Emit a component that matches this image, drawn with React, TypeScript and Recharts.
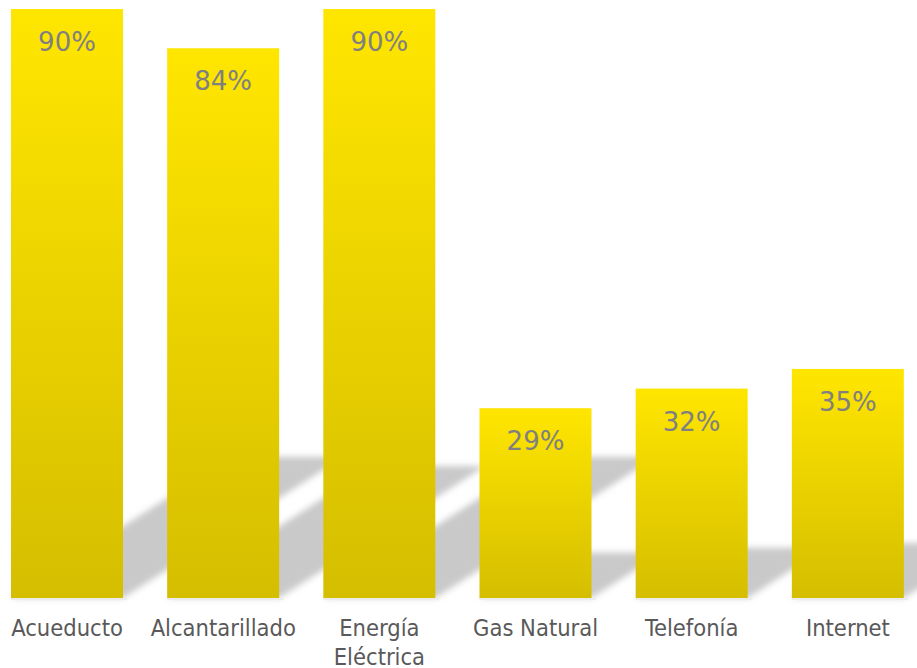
import React from 'react';
import { BarChart, Bar, XAxis, YAxis, LabelList } from 'recharts';

const categories = ['Acueducto', 'Alcantarillado', 'Energía Eléctrica', 'Gas Natural', 'Telefonía', 'Internet'];
const coverage = [90, 84, 90, 29, 32, 35];
// how each category name wraps under the axis
const tickLines = [['Acueducto'], ['Alcantarillado'], ['Energía', 'Eléctrica'], ['Gas Natural'], ['Telefonía'], ['Internet']];

const data = categories.map((name, i) => ({ name, value: coverage[i], lines: tickLines[i] }));

const SHADOW_RATIO = 0.24;
const SHADOW_SLOPE = 0.64;

// bar with a slanted, blurred floor shadow behind it
const ShadowBar = (props: any) => {
  const { x, y, width, height } = props;
  const base = y + height;
  const sh = height * SHADOW_RATIO;
  const dx = sh / SHADOW_SLOPE;
  const pts = [
    [x, base],
    [x + width, base],
    [x + width + dx, base - sh],
    [x + dx, base - sh],
  ]
    .map((p) => p.join(','))
    .join(' ');
  return (
    <g>
      <polygon points={pts} fill="#c9c9c9" filter="url(#shadowBlur)" />
      <rect x={x} y={base} width={width + 4} height={2} fill="#ececec" />
      <rect x={x} y={y} width={width} height={height} fill="url(#barGrad)" />
    </g>
  );
};

const CategoryTick = (props: any) => {
  const { x, y, index } = props;
  const lines = data[index]?.lines ?? [props.payload.value];
  return (
    <text
      x={x}
      y={y + 38}
      textAnchor="middle"
      fill="#595959"
      fontSize={23.5}
      fontFamily="'DejaVu Sans Condensed', 'DejaVu Sans', sans-serif"
      style={{ fontStretch: 'condensed' }}
    >
      {lines.map((l: string, i: number) => (
        <tspan key={i} x={x} dy={i === 0 ? 0 : 29}>
          {l}
        </tspan>
      ))}
    </text>
  );
};

const ValueLabel = (props: any) => {
  const { x, y, width, value } = props;
  return (
    <text
      x={x + width / 2}
      y={y + 42}
      textAnchor="middle"
      fill="#808080"
      fontSize={26}
      fontFamily="'DejaVu Sans', sans-serif"
    >
      {value}%
    </text>
  );
};

export default function App() {
  return (
    <div style={{ position: 'absolute', left: 0, top: 0, width: 917, height: 668, overflow: 'hidden', background: '#fff' }}>
      <div style={{ marginLeft: -11 }}>
        <BarChart width={937} height={668} data={data} margin={{ top: 9, right: 0, bottom: 0, left: 0 }} barSize={112}>
          <defs>
            <linearGradient id="barGrad" x1="0" y1="0" x2="0" y2="1">
              <stop offset="0%" stopColor="#ffe600" />
              <stop offset="100%" stopColor="#d5be00" />
            </linearGradient>
            <filter id="shadowBlur" x="-30%" y="-30%" width="160%" height="160%">
              <feGaussianBlur stdDeviation="3" />
            </filter>
          </defs>
          <XAxis
            dataKey="name"
            axisLine={false}
            tickLine={false}
            tickSize={0}
            tickMargin={0}
            height={70}
            interval={0}
            tick={<CategoryTick />}
          />
          <YAxis hide domain={[0, 90]} />
          <Bar dataKey="value" shape={<ShadowBar />} isAnimationActive={false}>
            <LabelList dataKey="value" content={<ValueLabel />} />
          </Bar>
        </BarChart>
      </div>
    </div>
  );
}
